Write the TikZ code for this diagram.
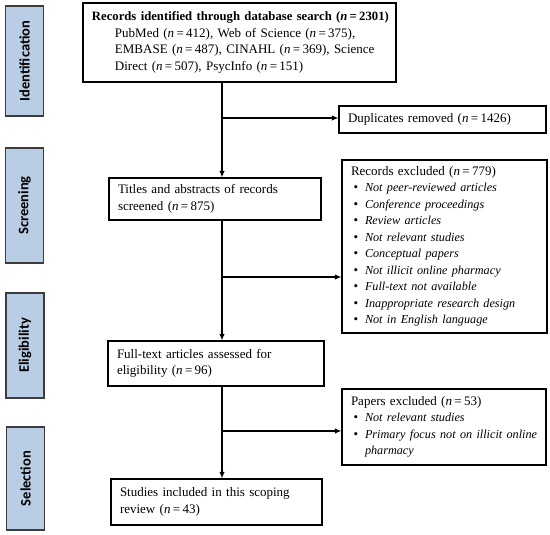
\documentclass[tikz,border=0pt]{standalone}
\usepackage{fontspec}
\setmainfont{Liberation Serif}
\newfontfamily\stagefont{Carlito}
\usetikzlibrary{arrows.meta}
\definecolor{stageblue}{RGB}{185,205,229}
\definecolor{stageline}{RGB}{60,60,60}
\newcommand{\nn}[1]{(\textit{n}\hspace{0.18em}=\hspace{0.18em}#1)}
\newcommand{\myital}[1]{{\fontsize{12.2}{16.5}\selectfont\itshape #1}}
\newcommand{\bl}[1]{\mbox{\hspace*{2.5pt}\makebox[11.5pt][l]{\textbullet}\myital{#1}}}
\begin{document}
\begin{tikzpicture}[x=1pt,y=-1pt,
  box/.style={draw=black, line width=1.1pt, inner xsep=9pt, inner ysep=0pt,
    align=left, font=\fontsize{13}{16.5}\selectfont},
  stagebox/.style={draw=stageline, fill=stageblue, line width=1.2pt, rotate=90,
    inner sep=0pt, font=\stagefont\bfseries\fontsize{14.5}{16}\selectfont},
  arr/.style={line width=1.2pt, -{Latex[length=6.5pt,width=5.5pt]}}]
\useasboundingbox (0,0) rectangle (550,535);
% stage labels
\node[stagebox, minimum width=110pt, minimum height=38pt] (sid) at (24.5,61) {Identification};
\node[stagebox, minimum width=115pt, minimum height=38pt] (sscr) at (24.5,205.5) {Screening};
\node[stagebox, minimum width=105pt, minimum height=38pt] (selig) at (25,345.5) {Eligibility};
\node[stagebox, minimum width=103pt, minimum height=38pt] (ssel) at (25.5,478.5) {Selection};
% boxes
\node[box, text width=295pt, minimum height=79pt] (id) at (239.5,42.5)
  {\mbox{\fontsize{12.7}{16.5}\selectfont\textbf{Records identified through database search (\textit{n}\hspace{0.18em}=\hspace{0.18em}2301)}}\\
   \mbox{\hspace*{23pt}PubMed \nn{412}, Web of Science \nn{375},}\\
   \mbox{\hspace*{23pt}EMBASE \nn{487}, CINAHL \nn{369}, Science}\\
   \mbox{\hspace*{23pt}Direct \nn{507}, PsycInfo \nn{151}}};
\node[box, text width=189pt, minimum height=27pt] (dup) at (442.5,119.5)
  {Duplicates removed \nn{1426}};
\node[box, text width=194pt, minimum height=42pt] (scr) at (215,199)
  {Titles and abstracts of records\\screened \nn{875}};
\node[box, text width=187pt, minimum height=173pt] (rex) at (444.5,246.5)
  {Records excluded \nn{779}\\
   \bl{Not peer-reviewed articles}\\
   \bl{Conference proceedings}\\
   \bl{Review articles}\\
   \bl{Not relevant studies}\\
   \bl{Conceptual papers}\\
   \bl{Not illicit online pharmacy}\\
   \bl{Full-text not available}\\
   \bl{Inappropriate research design}\\
   \bl{Not in English language}};
\node[box, text width=198pt, minimum height=45pt] (elig) at (216,363.5)
  {Full-text articles assessed for\\eligibility \nn{96}};
\node[box, text width=186pt, minimum height=76pt] (pex) at (444,427)
  {Papers excluded \nn{53}\\
   \bl{Not relevant studies}\\
   \bl{Primary focus not on illicit online}\\
   \mbox{\hspace*{14pt}\myital{pharmacy}}};
\node[box, text width=193pt, minimum height=46pt] (inc) at (216.5,502)
  {Studies included in this scoping\\review \nn{43}};
% connectors
\coordinate (sp) at (222,0);
\coordinate (b1) at (222,118);
\coordinate (b2) at (222,277);
\coordinate (b3) at (222,431);
\draw[arr] (id.south -| sp) -- (scr.north -| sp);
\draw[arr] (scr.south -| sp) -- (elig.north -| sp);
\draw[arr] (elig.south -| sp) -- (inc.north -| sp);
\draw[arr] (b1) -- (b1 -| dup.west);
\draw[arr] (b2) -- (b2 -| rex.west);
\draw[arr] (b3) -- (b3 -| pex.west);
\end{tikzpicture}
\end{document}
